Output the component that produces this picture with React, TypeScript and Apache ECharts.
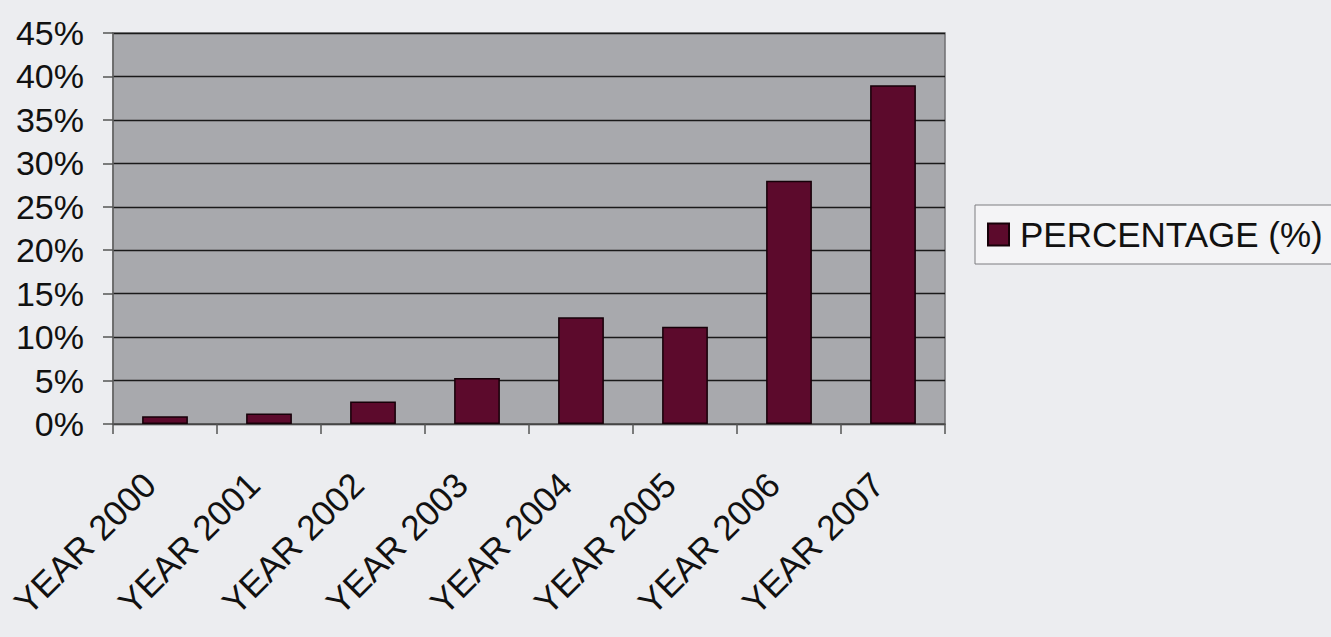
import React, { useEffect, useRef } from "react";
import * as echarts from "echarts";

// Yearly percentage figures
const categories: string[] = [
  "YEAR 2000",
  "YEAR 2001",
  "YEAR 2002",
  "YEAR 2003",
  "YEAR 2004",
  "YEAR 2005",
  "YEAR 2006",
  "YEAR 2007",
];
const percentages: number[] = [0.9, 1.2, 2.6, 5.3, 12.3, 11.2, 28, 39];
const seriesName = "PERCENTAGE (%)";

const FONT = "'Liberation Sans', Arial, sans-serif";

export default function App() {
  const ref = useRef<HTMLDivElement>(null);

  useEffect(() => {
    if (!ref.current) return;
    const chart = echarts.init(ref.current, null, { renderer: "svg" });
    chart.setOption({
      animation: false,
      backgroundColor: "#ecedf0",
      textStyle: { fontFamily: FONT },
      grid: {
        left: 113,
        right: 386,
        top: 33,
        bottom: 213,
        show: true,
        backgroundColor: "#a8a9ad",
        borderColor: "#6f6f72",
        borderWidth: 1.5,
      },
      legend: {
        left: 975,
        top: 205,
        orient: "vertical",
        data: [seriesName],
        icon: "rect",
        itemWidth: 21,
        itemHeight: 22,
        itemGap: 6,
        padding: [12, 10, 12, 12],
        backgroundColor: "#f4f4f6",
        borderColor: "#7c7c80",
        borderWidth: 1,
        borderRadius: 0,
        textStyle: {
          fontSize: 35,
          color: "#111",
          fontFamily: FONT,
          padding: [0, 0, 0, 6],
        },
      },
      xAxis: {
        type: "category",
        data: categories,
        axisLine: { show: true, lineStyle: { color: "#555", width: 1.5 } },
        axisTick: {
          show: true,
          alignWithLabel: false,
          length: 10,
          lineStyle: { color: "#555", width: 1.5 },
        },
        axisLabel: {
          rotate: 45,
          interval: 0,
          margin: 39,
          padding: [0, 22, 0, 0],
          fontSize: 35,
          color: "#111",
          fontFamily: FONT,
        },
        splitLine: { show: false },
      },
      yAxis: {
        type: "value",
        min: 0,
        max: 45,
        interval: 5,
        axisLine: { show: true, lineStyle: { color: "#666", width: 1.5 } },
        axisTick: {
          show: true,
          length: 10,
          lineStyle: { color: "#555", width: 1.5 },
        },
        axisLabel: {
          formatter: "{value}%",
          margin: 29,
          fontSize: 34,
          color: "#111",
          fontFamily: FONT,
        },
        splitLine: { show: true, lineStyle: { color: "#1a1a1a", width: 1.4 } },
      },
      series: [
        {
          name: seriesName,
          type: "bar",
          data: percentages,
          barWidth: "44%",
          itemStyle: {
            color: "#5c0a2c",
            borderColor: "#160008",
            borderWidth: 1.5,
          },
        },
      ],
    });
    return () => chart.dispose();
  }, []);

  return (
    <div
      ref={ref}
      style={{ position: "fixed", left: 0, top: 0, width: 1331, height: 637 }}
    />
  );
}
